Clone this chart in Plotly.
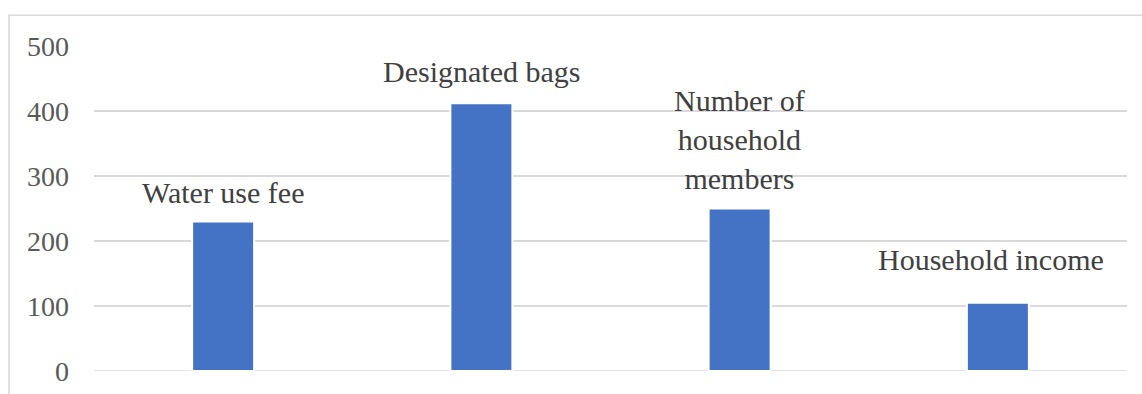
import plotly.graph_objects as go

categories = ["Water use fee", "Designated bags", "Number of household members", "Household income"]
values = [230, 412, 250, 105]
label_texts = ["Water use fee", "Designated bags", "Number of<br>household<br>members", "Household income"]
label_y = [275, 461, 356, 171]
label_xshift = [0, 0, 0, -7]
y_ticks = [0, 100, 200, 300, 400, 500]

FONT = "Liberation Serif"

fig = go.Figure()
fig.add_trace(go.Bar(
    x=categories, y=values,
    marker=dict(color="#4472C4", line=dict(color="white", width=2)),
    width=0.24,
    hoverinfo="skip",
))

for c, t, ly, xs in zip(categories, label_texts, label_y, label_xshift):
    fig.add_annotation(x=c, y=ly, text=t, showarrow=False, xshift=xs,
                       font=dict(family=FONT, size=30, color="#404040"),
                       align="center", yanchor="middle")

fig.add_shape(type="rect", xref="paper", yref="paper",
              x0=-0.0823, y0=-0.2, x1=1.1, y1=1.0944,
              line=dict(color="#d9d9d9", width=1.5), fillcolor="rgba(0,0,0,0)", layer="below")
fig.add_shape(type="line", xref="paper", yref="y", x0=0, x1=1, y0=0, y1=0,
              line=dict(color="#d9d9d9", width=1.5), layer="below")

fig.update_layout(
    template="none",
    width=1142, height=394,
    margin=dict(l=94, r=15, t=46, b=23, pad=0, autoexpand=False),
    paper_bgcolor="white", plot_bgcolor="white",
    showlegend=False,
    xaxis=dict(showticklabels=False, showgrid=False, zeroline=False, showline=False, ticks="",
               automargin=False),
    yaxis=dict(range=[0, 500], tickvals=y_ticks, showgrid=True, gridcolor="#d9d9d9", gridwidth=1.5,
               zeroline=False, showline=False, ticks="", ticklabelstandoff=24, automargin=False,
               tickfont=dict(family=FONT, size=28, color="#595959")),
)

fig.write_html("out.html")
